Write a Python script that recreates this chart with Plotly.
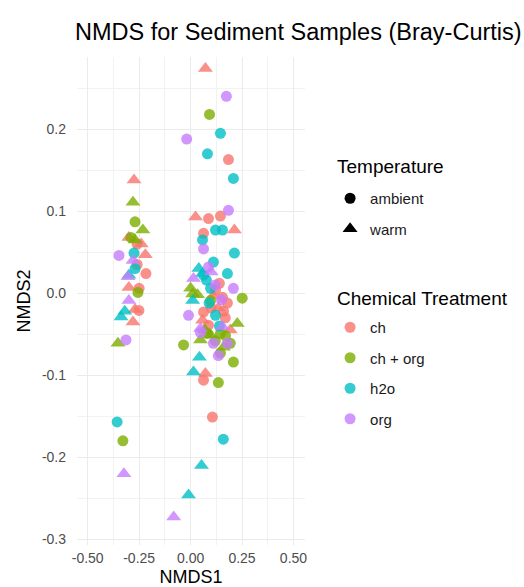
import plotly.graph_objects as go

# NMDS ordination scores (Bray-Curtis) for sediment samples, split by
# chemical treatment and temperature.
ch_ambient_x = [-0.26, -0.217, -0.26, -0.25, -0.251, 0.087, 0.145, 0.184, 0.063, 0.155,
                0.179, 0.063, 0.106, 0.063, 0.121, 0.169, 0.087, 0.140, 0.100, 0.160]
ch_ambient_y = [0.060, 0.024, 0.035, 0.006, -0.021, 0.091, 0.094, 0.163, 0.073, -0.005,
                -0.012, -0.023, -0.151, -0.106, 0.004, -0.030, -0.039, 0.012, -0.018, -0.022]
ch_warm_x = [-0.275, -0.30, -0.24, -0.22, -0.30, -0.28, -0.27, 0.072, 0.024, 0.213,
             0.058, 0.072, 0.193, 0.135, 0.110]
ch_warm_y = [0.138, 0.068, 0.060, 0.047, 0.007, -0.035, -0.020, 0.274, 0.093, 0.077,
             -0.033, -0.098, -0.045, -0.018, -0.003]

chorg_ambient_x = [-0.270, -0.256, -0.329, -0.29, 0.092, 0.251, -0.034, 0.135, 0.208,
                   0.082, 0.145, 0.193, 0.145, 0.097, 0.170, 0.120]
chorg_ambient_y = [0.087, 0.001, -0.180, 0.068, 0.218, -0.006, -0.063, -0.109, -0.084,
                   -0.049, -0.049, -0.061, -0.073, -0.009, -0.052, -0.058]
chorg_warm_x = [-0.280, -0.232, -0.353, -0.27, 0.0, 0.010, 0.034, 0.227, 0.097, 0.048,
                0.070, 0.160]
chorg_warm_y = [0.111, 0.077, -0.061, 0.065, 0.006, -0.001, -0.002, -0.037, -0.051, -0.057,
                -0.045, -0.066]

h2o_ambient_x = [-0.275, -0.357, -0.27, 0.145, 0.082, 0.208, 0.121, 0.155, 0.058, 0.213,
                 0.111, 0.179, 0.063, 0.097, 0.121, 0.159, 0.077, 0.090, 0.140]
h2o_ambient_y = [0.049, -0.157, 0.030, 0.195, 0.170, 0.140, 0.077, 0.077, 0.065, 0.049,
                 0.038, 0.024, 0.022, 0.006, -0.027, -0.178, 0.016, -0.012, -0.040]
h2o_warm_x = [-0.30, -0.338, -0.32, 0.058, 0.010, 0.043, 0.014, 0.053, -0.010, 0.040]
h2o_warm_y = [0.022, -0.029, -0.022, 0.024, -0.009, -0.078, -0.096, -0.210, -0.246, 0.030]

org_ambient_x = [-0.348, -0.314, 0.174, -0.019, 0.184, 0.063, 0.087, 0.208, -0.010,
                 0.111, 0.179, 0.135, 0.048, 0.120, 0.150]
org_ambient_y = [0.046, -0.057, 0.240, 0.188, 0.101, 0.054, 0.032, 0.006, -0.027,
                 -0.061, -0.061, -0.076, -0.048, 0.010, -0.008]
org_warm_x = [-0.304, -0.30, -0.324, -0.28, 0.014, 0.155, -0.082, 0.048, 0.100]
org_warm_y = [0.020, -0.009, -0.220, 0.040, 0.018, -0.041, -0.273, -0.043, 0.026]

treatments = ["ch", "ch + org", "h2o", "org"]
temperatures = ["ambient", "warm"]
x_ticks = [-0.5, -0.25, 0.0, 0.25, 0.5]
x_tick_text = ["-0.50", "-0.25", "0.00", "0.25", "0.50"]
y_ticks = [-0.3, -0.2, -0.1, 0.0, 0.1, 0.2]
y_tick_text = ["-0.3", "-0.2", "-0.1", "0.0", "0.1", "0.2"]

colors = {"ch": "#F8766D", "ch + org": "#7CAE00", "h2o": "#00BFC4", "org": "#C77CFF"}
symbols = {"ambient": "circle", "warm": "triangle-up"}
sizes = {"ambient": 11, "warm": 13}

groups = [
    ("ch", "ambient", ch_ambient_x, ch_ambient_y),
    ("ch", "warm", ch_warm_x, ch_warm_y),
    ("ch + org", "ambient", chorg_ambient_x, chorg_ambient_y),
    ("ch + org", "warm", chorg_warm_x, chorg_warm_y),
    ("h2o", "ambient", h2o_ambient_x, h2o_ambient_y),
    ("h2o", "warm", h2o_warm_x, h2o_warm_y),
    ("org", "ambient", org_ambient_x, org_ambient_y),
    ("org", "warm", org_warm_x, org_warm_y),
]

font_family = "Liberation Sans, Arial, sans-serif"
W, H = 524, 587
ML, MR, MT, MB = 77, 219, 57, 42
PW, PH = W - ML - MR, H - MT - MB
fig = go.Figure()

for treat, temp, xs, ys in groups:
    fig.add_trace(go.Scatter(
        x=xs, y=ys, mode="markers", showlegend=False,
        marker=dict(color=colors[treat], symbol=symbols[temp], size=sizes[temp],
                    opacity=0.8, line=dict(width=0)),
        hoverinfo="skip",
    ))

# Legend: temperature (shape)
for temp in temperatures:
    fig.add_trace(go.Scatter(
        x=[None], y=[None], mode="markers", name=temp, legend="legend",
        legendgroup="t_" + temp,
        marker=dict(color="black", symbol=symbols[temp], size=sizes[temp]),
    ))

# Legend: chemical treatment (colour)
for treat in treatments:
    fig.add_trace(go.Scatter(
        x=[None], y=[None], mode="markers", name=treat, legend="legend2",
        legendgroup="c_" + treat,
        marker=dict(color=colors[treat], symbol="circle", size=11, opacity=0.8),
    ))

legend_common = dict(
    font=dict(family=font_family, size=15, color="#1a1a1a"),
    bgcolor="rgba(0,0,0,0)", borderwidth=0,
    traceorder="grouped", tracegroupgap=8,
    xanchor="left", yanchor="top", itemsizing="trace",
)

# Legend headings drawn as paper-anchored text
legend_titles = [("Temperature", 166), ("Chemical Treatment", 298)]
annotations = [
    dict(text=t, xref="paper", yref="paper", x=(335 - ML) / PW,
         y=1 - (yc - MT) / PH, xanchor="left", yanchor="middle",
         showarrow=False, font=dict(family=font_family, size=19, color="black"))
    for t, yc in legend_titles
]

fig.update_layout(
    width=W, height=H,
    margin=dict(l=ML, r=MR, t=MT, b=MB),
    paper_bgcolor="white", plot_bgcolor="white",
    font=dict(family=font_family),
    title=dict(text="NMDS for Sediment Samples (Bray-Curtis)",
               font=dict(family=font_family, size=23.5, color="black"),
               x=75 / W, xanchor="left", y=1 - 32 / H, yanchor="middle"),
    annotations=annotations,
    legend=dict(x=1.11, y=1 - (182 - MT) / PH, **legend_common),
    legend2=dict(x=1.11, y=1 - (311 - MT) / PH, **legend_common),
    xaxis=dict(range=[-0.552, 0.556], tickvals=x_ticks, ticktext=x_tick_text,
               automargin=False,
               showgrid=True, gridcolor="#EBEBEB", gridwidth=1,
               minor=dict(dtick=0.125, tick0=-0.625, showgrid=True, gridcolor="#F2F2F2", gridwidth=0.7),
               zeroline=False, showline=False, ticks="",
               tickfont=dict(size=14, color="#4D4D4D"), ticklabelstandoff=3,
               title=dict(text="NMDS1", font=dict(size=18, color="black"), standoff=6)),
    yaxis=dict(range=[-0.307, 0.288], tickvals=y_ticks, ticktext=y_tick_text,
               automargin=False,
               showgrid=True, gridcolor="#EBEBEB", gridwidth=1,
               minor=dict(dtick=0.05, tick0=-0.35, showgrid=True, gridcolor="#F2F2F2", gridwidth=0.7),
               zeroline=False, showline=False, ticks="",
               tickfont=dict(size=14, color="#4D4D4D"), ticklabelstandoff=10,
               title=dict(text="NMDS2", font=dict(size=18, color="black"), standoff=6)),
)

fig.write_html("out.html")
